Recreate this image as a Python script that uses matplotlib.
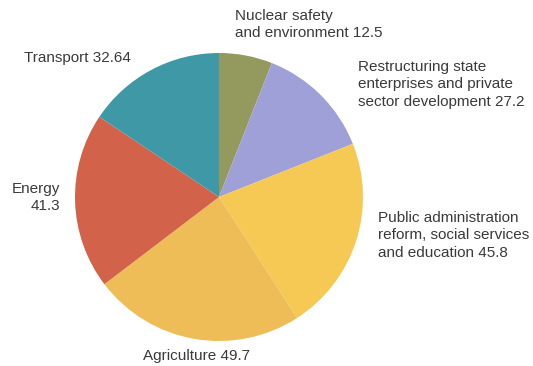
import matplotlib
matplotlib.use("Agg")
import matplotlib.pyplot as plt

# Slices, clockwise from the top
labels = ["Nuclear safety\nand environment 12.5",
          "Restructuring state\nenterprises and private\nsector development 27.2",
          "Public administration\nreform, social services\nand education 45.8",
          "Agriculture 49.7",
          "Energy\n41.3",
          "Transport 32.64"]
values = [12.5, 27.2, 45.8, 49.7, 41.3, 32.64]
colors = ["#949a5e", "#9fa0d8", "#f6c955", "#eebd58", "#d3624b", "#3f98a6"]

W, H = 533, 366
fig = plt.figure(figsize=(W / 100, H / 100), dpi=100)
ax = fig.add_axes([0, 0, 1, 1])

cx, cy, r = 219, 197, 144
ax.pie(values, colors=colors, startangle=90, counterclock=False,
       center=(cx, H - cy), radius=r,
       wedgeprops=dict(linewidth=0))
ax.set_xlim(0, W)
ax.set_ylim(0, H)
ax.set_aspect("auto")
ax.axis("off")

# label anchors in pixel coords (x, y from top), alignment
label_pos = [(235, 9, "left"), (358, 60, "left"), (378, 211, "left"),
             (143, 349, "left"), (60, 182, "right"), (24, 51, "left")]

for text, (x, y, ha) in zip(labels, label_pos):
    ax.text(x, H - y, text, ha=ha, va="top", fontsize=11,
            family="Liberation Sans", color="#3a3a3a", linespacing=1.3,
            multialignment=ha)

fig.savefig("out.png", dpi=100)
